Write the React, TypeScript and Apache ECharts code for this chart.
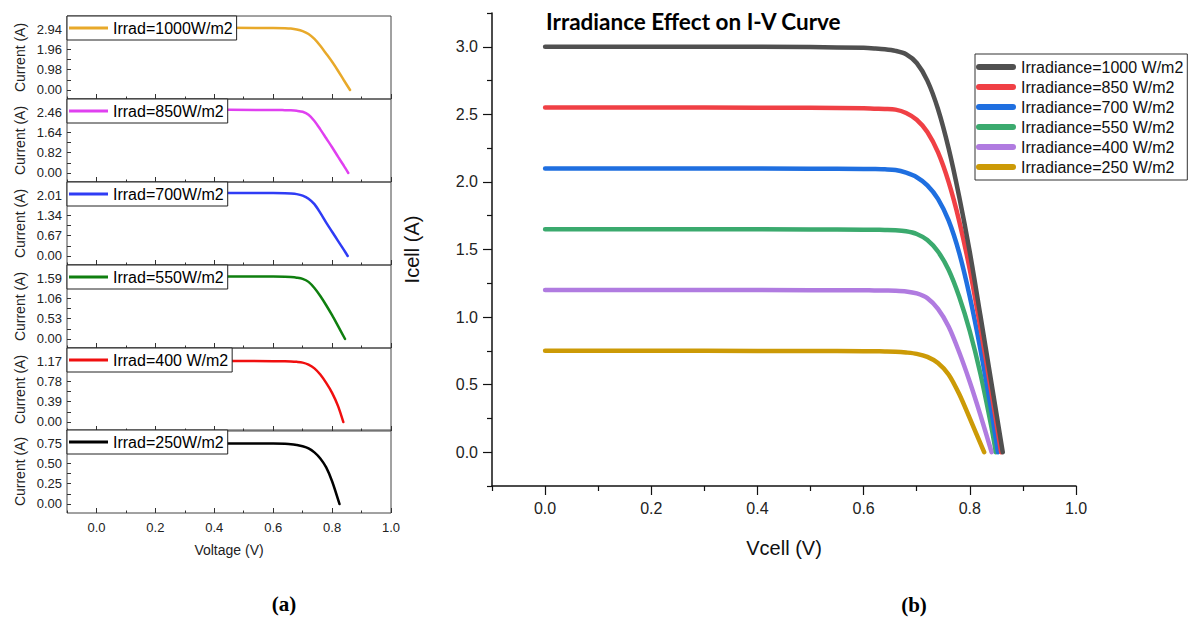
import React, { useEffect, useRef } from "react";
import * as echarts from "echarts";

// ---------- Panel (a): six stacked I-V curves ----------
const leftNames = [
  "Irrad=1000W/m2",
  "Irrad=850W/m2",
  "Irrad=700W/m2",
  "Irrad=550W/m2",
  "Irrad=400 W/m2",
  "Irrad=250W/m2",
];
const leftColors = ["#E8A92A", "#E040F0", "#2F3CF5", "#0F7F0F", "#F00F0F", "#000000"];
const leftTickLabels = [
  ["0.00", "0.98", "1.96", "2.94"],
  ["0.00", "0.82", "1.64", "2.46"],
  ["0.00", "0.67", "1.34", "2.01"],
  ["0.00", "0.53", "1.06", "1.59"],
  ["0.00", "0.39", "0.78", "1.17"],
  ["0.00", "0.25", "0.50", "0.75"],
];
const xMajorTicks = [0, 0.2, 0.4, 0.6, 0.8, 1.0];
const xMinorTicks = [-0.1, 0.1, 0.3, 0.5, 0.7, 0.9];

const left1000 = [[0, 3.0], [0.3, 3.0], [0.6, 2.99], [0.64, 2.98], [0.66, 2.965], [0.68, 2.92], [0.7, 2.84], [0.72, 2.7], [0.74, 2.46], [0.76, 2.13], [0.78, 1.75], [0.8, 1.36], [0.82, 0.93], [0.84, 0.47], [0.861, 0]];
const left850 = [[0, 2.55], [0.3, 2.55], [0.6, 2.545], [0.64, 2.535], [0.66, 2.528], [0.68, 2.51], [0.7, 2.47], [0.72, 2.35], [0.74, 2.1], [0.76, 1.76], [0.78, 1.4], [0.8, 1.04], [0.82, 0.66], [0.84, 0.29], [0.855, 0]];
const left700 = [[0, 2.08], [0.3, 2.08], [0.6, 2.075], [0.64, 2.068], [0.66, 2.06], [0.68, 2.04], [0.7, 1.99], [0.72, 1.89], [0.74, 1.71], [0.76, 1.42], [0.78, 1.1], [0.8, 0.8], [0.82, 0.5], [0.84, 0.2], [0.853, 0]];
const left550 = [[0, 1.63], [0.3, 1.63], [0.6, 1.627], [0.64, 1.622], [0.66, 1.615], [0.68, 1.6], [0.7, 1.57], [0.72, 1.49], [0.74, 1.33], [0.76, 1.12], [0.78, 0.88], [0.8, 0.62], [0.82, 0.34], [0.844, 0]];
const left400 = [[0, 1.17], [0.3, 1.17], [0.6, 1.168], [0.64, 1.166], [0.66, 1.163], [0.68, 1.155], [0.7, 1.14], [0.72, 1.1], [0.74, 1.03], [0.76, 0.91], [0.78, 0.75], [0.8, 0.56], [0.82, 0.31], [0.838, 0]];
const left250 = [[0, 0.745], [0.3, 0.745], [0.6, 0.743], [0.64, 0.74], [0.66, 0.736], [0.68, 0.725], [0.7, 0.71], [0.72, 0.685], [0.74, 0.635], [0.76, 0.56], [0.78, 0.45], [0.8, 0.28], [0.825, 0]];
const leftCurves = [left1000, left850, left700, left550, left400, left250];

// ---------- Panel (b): combined I-V curves ----------
const rightNames = [
  "Irradiance=1000 W/m2",
  "Irradiance=850 W/m2",
  "Irradiance=700 W/m2",
  "Irradiance=550 W/m2",
  "Irradiance=400 W/m2",
  "Irradiance=250 W/m2",
];
const rightColors = ["#505050", "#F04045", "#1F6FE0", "#3BAA6E", "#B07BE0", "#CC9A06"];
const rightYMajor = [0, 0.5, 1.0, 1.5, 2.0, 2.5, 3.0];
const rightYMinor = [-0.25, 0.25, 0.75, 1.25, 1.75, 2.25, 2.75, 3.25];

const right1000 = [[0, 3.0], [0.3, 3.0], [0.5, 2.998], [0.6, 2.992], [0.62, 2.988], [0.64, 2.982], [0.66, 2.97], [0.68, 2.945], [0.7, 2.88], [0.72, 2.75], [0.74, 2.54], [0.76, 2.25], [0.78, 1.89], [0.8, 1.48], [0.82, 1.01], [0.84, 0.53], [0.862, 0]];
const right850 = [[0, 2.55], [0.3, 2.55], [0.5, 2.548], [0.6, 2.545], [0.62, 2.542], [0.64, 2.54], [0.66, 2.535], [0.68, 2.51], [0.7, 2.46], [0.72, 2.37], [0.74, 2.22], [0.76, 2.0], [0.78, 1.71], [0.8, 1.35], [0.82, 0.92], [0.84, 0.46], [0.859, 0]];
const right700 = [[0, 2.1], [0.3, 2.1], [0.5, 2.098], [0.6, 2.096], [0.62, 2.095], [0.64, 2.093], [0.66, 2.088], [0.68, 2.068], [0.7, 2.035], [0.72, 1.975], [0.74, 1.875], [0.76, 1.715], [0.78, 1.475], [0.8, 1.15], [0.82, 0.76], [0.84, 0.32], [0.853, 0]];
const right550 = [[0, 1.65], [0.3, 1.65], [0.5, 1.648], [0.6, 1.647], [0.62, 1.646], [0.64, 1.645], [0.66, 1.643], [0.68, 1.635], [0.7, 1.615], [0.72, 1.57], [0.74, 1.485], [0.76, 1.35], [0.78, 1.15], [0.8, 0.895], [0.82, 0.58], [0.84, 0.2], [0.849, 0]];
const right400 = [[0, 1.2], [0.3, 1.2], [0.5, 1.199], [0.6, 1.198], [0.62, 1.197], [0.64, 1.196], [0.66, 1.195], [0.68, 1.19], [0.7, 1.175], [0.72, 1.14], [0.74, 1.06], [0.76, 0.93], [0.78, 0.74], [0.8, 0.52], [0.82, 0.275], [0.841, 0]];
const right250 = [[0, 0.75], [0.3, 0.75], [0.5, 0.749], [0.6, 0.748], [0.62, 0.747], [0.64, 0.746], [0.66, 0.744], [0.68, 0.738], [0.7, 0.728], [0.72, 0.705], [0.74, 0.66], [0.76, 0.575], [0.78, 0.43], [0.8, 0.25], [0.827, 0]];
const rightCurves = [right1000, right850, right700, right550, right400, right250];

const FONT = "Liberation Sans";

function buildOption() {
  const panelTops = [16, 99, 182, 265, 348, 430];
  const panelH = 83;
  const grid: any[] = [];
  const xAxis: any[] = [];
  const yAxis: any[] = [];
  const series: any[] = [];
  const legend: any[] = [];

  panelTops.forEach((top, i) => {
    grid.push({
      left: 67, top, width: 324, height: panelH, show: true,
      borderColor: "#444", borderWidth: 1, backgroundColor: "transparent",
      outerBoundsMode: "none",
    });
    const last = i === panelTops.length - 1;
    xAxis.push({
      type: "value", gridIndex: i, min: -0.1, max: 1.0, position: "bottom",
      axisLine: { show: false, onZero: false }, splitLine: { show: false },
      axisTick: { inside: true, length: 5, customValues: xMajorTicks, lineStyle: { color: "#333" } },
      axisLabel: {
        show: last, customValues: xMajorTicks, formatter: (v: number) => v.toFixed(1),
        fontSize: 13, margin: 8, color: "#222", fontFamily: FONT,
      },
      name: last ? "Voltage (V)" : "", nameLocation: "middle", nameGap: 30,
      nameTextStyle: { fontSize: 14, color: "#222", fontFamily: FONT },
    });
    xAxis.push({
      type: "value", gridIndex: i, min: -0.1, max: 1.0, position: "bottom",
      axisLine: { show: false, onZero: false }, splitLine: { show: false },
      axisTick: { inside: true, length: 2.5, customValues: xMinorTicks, lineStyle: { color: "#333" } },
      axisLabel: { show: false },
    });
    const labels = leftTickLabels[i];
    const vals = labels.map(Number);
    const T = vals[3];
    const tickVals = [0, 1, 2, 3, 4, 5, 6].map((k) => (k * T) / 6);
    yAxis.push({
      type: "value", gridIndex: i, min: -0.148 * T, max: 1.214 * T, position: "left",
      axisLine: { show: false, onZero: false }, splitLine: { show: false },
      axisTick: { inside: true, length: 4, customValues: tickVals, lineStyle: { color: "#333" } },
      axisLabel: {
        customValues: vals, formatter: (v: number) => v.toFixed(2),
        fontSize: 13, margin: 5, color: "#222", fontFamily: FONT,
      },
      name: "Current (A)", nameLocation: "middle", nameGap: 40,
      nameTextStyle: { fontSize: 14, color: "#222", fontFamily: FONT },
    });
    series.push({
      type: "line", name: leftNames[i], xAxisIndex: 2 * i, yAxisIndex: i,
      data: leftCurves[i], showSymbol: false, symbol: "none", smooth: 0.3,
      color: leftColors[i], lineStyle: { width: 2.5, color: leftColors[i], cap: "round" },
      clip: true,
    });
    legend.push({
      data: [leftNames[i]], left: 67, top, orient: "horizontal", icon: "rect",
      itemWidth: 39, itemHeight: 3, padding: [4, 4, 4, 2],
      backgroundColor: "#fff", borderColor: "#222", borderWidth: 1, selectedMode: false,
      textStyle: { fontSize: 16, fontFamily: FONT, color: "#000" },
    });
  });

  // right chart
  const gi = grid.length;
  grid.push({ left: 492, top: 13, width: 584, height: 473, show: false, outerBoundsMode: "none" });
  const xi = xAxis.length;
  xAxis.push({
    type: "value", gridIndex: gi, min: -0.1, max: 1.0, position: "bottom",
    axisLine: { show: true, onZero: false, lineStyle: { color: "#111", width: 1.5 } }, splitLine: { show: false },
    axisTick: { inside: false, length: 9, customValues: xMajorTicks, lineStyle: { color: "#111", width: 1.2 } },
    axisLabel: {
      customValues: xMajorTicks, formatter: (v: number) => v.toFixed(1),
      fontSize: 16, margin: 14, color: "#222", fontFamily: FONT,
    },
    name: "Vcell (V)", nameLocation: "middle", nameGap: 52,
    nameTextStyle: { fontSize: 20, color: "#111", fontFamily: FONT },
  });
  xAxis.push({
    type: "value", gridIndex: gi, min: -0.1, max: 1.0, position: "bottom",
    axisLine: { show: false, onZero: false }, splitLine: { show: false },
    axisTick: { inside: false, length: 5, customValues: xMinorTicks, lineStyle: { color: "#111", width: 1.2 } },
    axisLabel: { show: false },
  });
  const yi = yAxis.length;
  yAxis.push({
    type: "value", gridIndex: gi, min: -0.25, max: 3.25, position: "left",
    axisLine: { show: true, onZero: false, lineStyle: { color: "#111", width: 1.5 } }, splitLine: { show: false },
    axisTick: { inside: false, length: 9, customValues: rightYMajor, lineStyle: { color: "#111", width: 1.2 } },
    axisLabel: {
      customValues: rightYMajor, formatter: (v: number) => v.toFixed(1),
      fontSize: 16, margin: 14, color: "#222", fontFamily: FONT,
    },
    name: "Icell (A)", nameLocation: "middle", nameGap: 70,
    nameTextStyle: { fontSize: 20, color: "#111", fontFamily: FONT },
  });
  yAxis.push({
    type: "value", gridIndex: gi, min: -0.25, max: 3.25, position: "left",
    axisLine: { show: false, onZero: false }, splitLine: { show: false },
    axisTick: { inside: false, length: 5, customValues: rightYMinor, lineStyle: { color: "#111", width: 1.2 } },
    axisLabel: { show: false },
  });
  rightCurves.forEach((d, k) => {
    series.push({
      type: "line", name: rightNames[k], xAxisIndex: xi, yAxisIndex: yi,
      data: d, showSymbol: false, symbol: "none", smooth: 0.3,
      color: rightColors[k], lineStyle: { width: 4.5, color: rightColors[k], cap: "round", join: "round" },
      z: 10 - k,
    });
  });
  legend.push({
    data: rightNames, left: 975, top: 54, orient: "vertical",
    icon: "path://M3,0 L37,0 A3,3 0 0 1 37,6 L3,6 A3,3 0 0 1 3,0 Z",
    itemWidth: 40, itemHeight: 6, itemGap: 4, padding: [5, 4, 5, 1],
    backgroundColor: "#fff", borderColor: "#333", borderWidth: 1, selectedMode: false,
    textStyle: { fontSize: 16, lineHeight: 16, fontFamily: FONT, color: "#111" },
  });

  return {
    animation: false,
    backgroundColor: "#fff",
    title: {
      text: "Irradiance Effect on I-V Curve", left: 546, top: 10, padding: 0,
      textStyle: { fontFamily: "Lato", fontWeight: "bold", fontSize: 22.5, color: "#000" },
    },
    grid, xAxis, yAxis, series, legend,
    graphic: [
      { type: "text", x: 284, y: 604, style: { text: "(a)", align: "center", verticalAlign: "middle", fontSize: 21, fontWeight: "bold", fontFamily: "Liberation Serif", fill: "#000" } },
      { type: "text", x: 914, y: 605, style: { text: "(b)", align: "center", verticalAlign: "middle", fontSize: 21, fontWeight: "bold", fontFamily: "Liberation Serif", fill: "#000" } },
    ],
  };
}

export default function App() {
  const ref = useRef<HTMLDivElement>(null);
  useEffect(() => {
    if (!ref.current) return;
    const chart = echarts.init(ref.current, undefined, { renderer: "svg" });
    chart.setOption(buildOption() as any);
    return () => chart.dispose();
  }, []);
  return (
    <div
      ref={ref}
      style={{ position: "fixed", left: 0, top: 0, width: 1197, height: 621, background: "#fff" }}
    />
  );
}
